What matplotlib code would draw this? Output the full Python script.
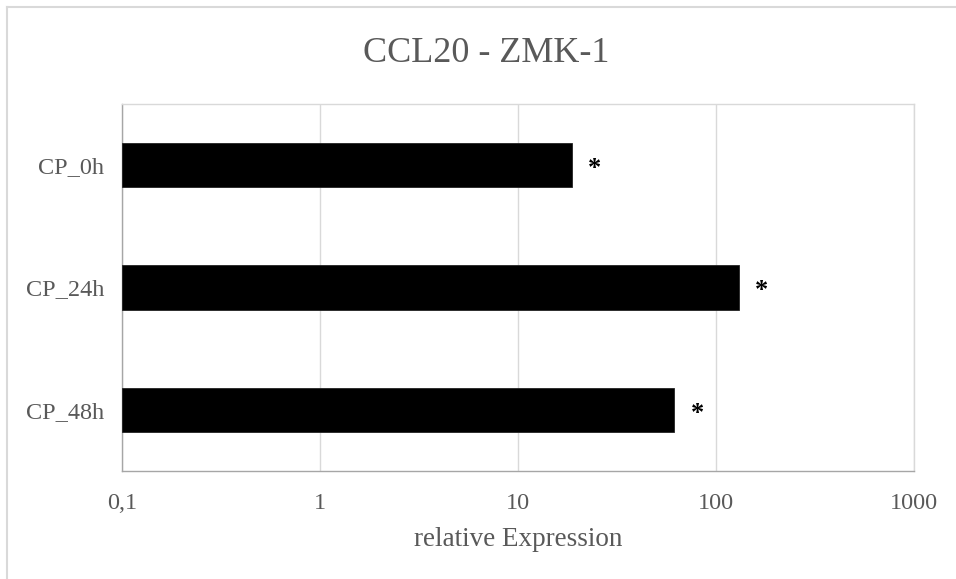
import matplotlib
matplotlib.use("Agg")
import matplotlib.pyplot as plt
from matplotlib.lines import Line2D
from matplotlib.ticker import FixedLocator, FixedFormatter

categories = ["CP_0h", "CP_24h", "CP_48h"]
values = [18.7, 130.0, 61.5]
marks = ["*", "*", "*"]
tick_values = [0.1, 1, 10, 100, 1000]
tick_labels = ["0,1", "1", "10", "100", "1000"]

plt.rcParams["font.family"] = ["Liberation Serif", "DejaVu Serif"]
text_color = "#595959"

fig = plt.figure(figsize=(9.56, 5.79), dpi=100)
fig.patch.set_facecolor("white")
ax = fig.add_axes([122 / 956, 1 - 471 / 579, (914 - 122) / 956, (471 - 104) / 579])

ypos = list(range(len(categories)))
ax.barh(ypos, values, height=0.36, left=0.1, color="black", edgecolor="#222222",
        linewidth=0.6, zorder=3)

ax.set_xscale("log")
ax.set_xlim(0.1, 1000)
ax.set_ylim(len(categories) - 0.5, -0.5)
ax.xaxis.set_major_locator(FixedLocator(tick_values))
ax.xaxis.set_major_formatter(FixedFormatter(tick_labels))
ax.xaxis.set_minor_locator(FixedLocator([]))
ax.set_yticks(ypos)
ax.set_yticklabels(categories)

ax.tick_params(axis="both", length=0, colors=text_color, labelsize=17.5)
ax.tick_params(axis="x", pad=16)
ax.tick_params(axis="y", pad=13)
ax.grid(axis="x", color="#d9d9d9", linewidth=1.0, zorder=0)

for side in ("top", "right"):
    ax.spines[side].set_color("#d9d9d9")
    ax.spines[side].set_linewidth(1.0)
for side in ("left", "bottom"):
    ax.spines[side].set_color("#a6a6a6")
    ax.spines[side].set_linewidth(1.0)

for y, v, m in zip(ypos, values, marks):
    ax.annotate(m, xy=(v, y), xytext=(16.5, -2.5), textcoords="offset points",
                ha="center", va="center", fontsize=19, color="black",
                fontweight="bold", zorder=4)

ax.set_xlabel("relative Expression", fontsize=19.5, color=text_color, labelpad=9)
fig.text(486 / 956, 1 - 54 / 579, "CCL20 - ZMK-1",
         ha="center", va="center", fontsize=26, color=text_color)

# chart area frame
fig.add_artist(Line2D([7 / 956, 1.0], [1 - 7 / 579, 1 - 7 / 579],
                      transform=fig.transFigure, color="#d9d9d9", linewidth=1.5))
fig.add_artist(Line2D([7 / 956, 7 / 956], [0.0, 1 - 7 / 579],
                      transform=fig.transFigure, color="#d9d9d9", linewidth=1.5))

fig.savefig("out.png", dpi=100, facecolor="white")
